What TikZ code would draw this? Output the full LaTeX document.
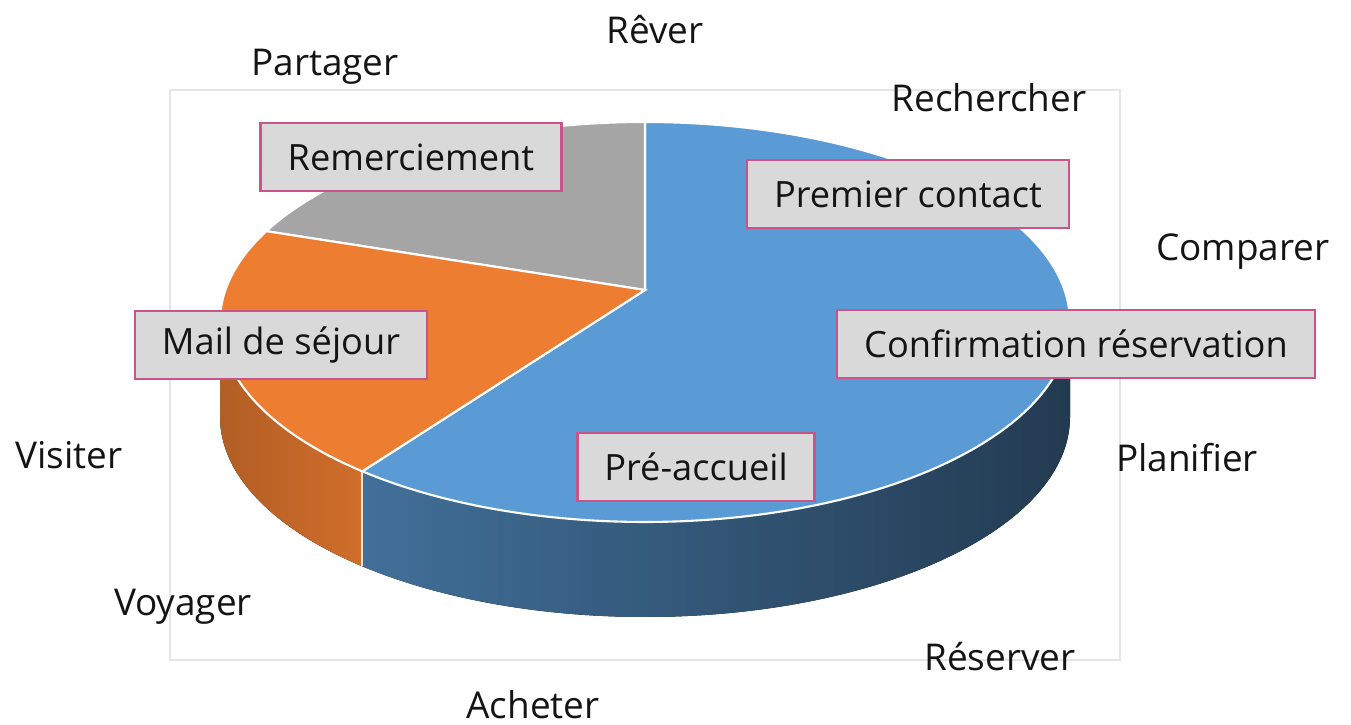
\documentclass[tikz,border=0pt]{standalone}
\usepackage{fontspec}
\setmainfont{Open Sans}
\usetikzlibrary{calc}

\definecolor{pieblue}{HTML}{5B9BD5}
\definecolor{pieorange}{HTML}{ED7D31}
\definecolor{piegray}{HTML}{A5A5A5}
\definecolor{boxfill}{HTML}{D9D9D9}
\definecolor{boxline}{HTML}{C8558A}
\definecolor{txtdark}{HTML}{141414}

\begin{document}
\begin{tikzpicture}[x=0.01cm, y=0.01cm,
  lbl/.style={draw=boxline, line width=0.7pt, fill=boxfill, text=txtdark,
    minimum height=0.68cm, inner xsep=0.27cm, font=\fontsize{10.3}{12}\selectfont},
  phase/.style={text=txtdark, font=\fontsize{10.5}{12}\selectfont},
  rim/.style={draw=white, line width=0.6pt}]

\useasboundingbox (0,0) rectangle (1351,-725);

% cadre
\draw[gray!20, line width=0.6pt] (170,-90) rectangle (1120,-660);

\coordinate (C) at (645,-322);
\coordinate (A) at (645,-290);

% flancs
\fill[left color=pieorange!75!black, right color=pieorange!88!black]
  ($(C)+(180:425 and 200)$) arc[start angle=180, end angle=228.3, x radius=425, y radius=200]
  -- ++(0,-95) arc[start angle=228.3, end angle=180, x radius=425, y radius=200] -- cycle;
\fill[left color=pieblue!72!black, right color=pieblue!38!black]
  ($(C)+(228.3:425 and 200)$) arc[start angle=228.3, end angle=360, x radius=425, y radius=200]
  -- ++(0,-95) arc[start angle=360, end angle=228.3, x radius=425, y radius=200] -- cycle;
\draw[white!80!pieorange, line width=0.6pt] ($(C)+(228.3:425 and 200)$) -- ++(0,-95);

% dessus
\filldraw[fill=pieblue, rim] (A) -- ($(C)+(228.3:425 and 200)$)
  arc[start angle=228.3, end angle=450, x radius=425, y radius=200] -- cycle;
\filldraw[fill=piegray, rim] (A) -- ($(C)+(90:425 and 200)$)
  arc[start angle=90, end angle=153, x radius=425, y radius=200] -- cycle;
\filldraw[fill=pieorange, rim] (A) -- ($(C)+(153:425 and 200)$)
  arc[start angle=153, end angle=228.3, x radius=425, y radius=200] -- cycle;

% etiquettes des parts
\node[lbl] (remerc) at (411,-157) {Remerciement};
\node[lbl] (contact) at (908,-194) {Premier contact};
\node[lbl] (confirm) at (1076,-344) {Confirmation réservation};
\node[lbl] (sejour) at (281,-345) {Mail de séjour};
\node[lbl] (accueil) at (696,-467) {Pré-accueil};

% etapes
\node[phase] (rever) at (655,-30) {Rêver};
\node[phase] (partager) at (325,-67) {Partager};
\node[phase] (rechercher) at (989,-98) {Rechercher};
\node[phase] (comparer) at (1243,-252) {Comparer};
\node[phase] (planifier) at (1187,-458) {Planifier};
\node[phase] (reserver) at (1000,-657) {Réserver};
\node[phase] (acheter) at (533,-705) {Acheter};
\node[phase] (voyager) at (183,-607) {Voyager};
\node[phase] (visiter) at (69,-455) {Visiter};

\end{tikzpicture}
\end{document}
